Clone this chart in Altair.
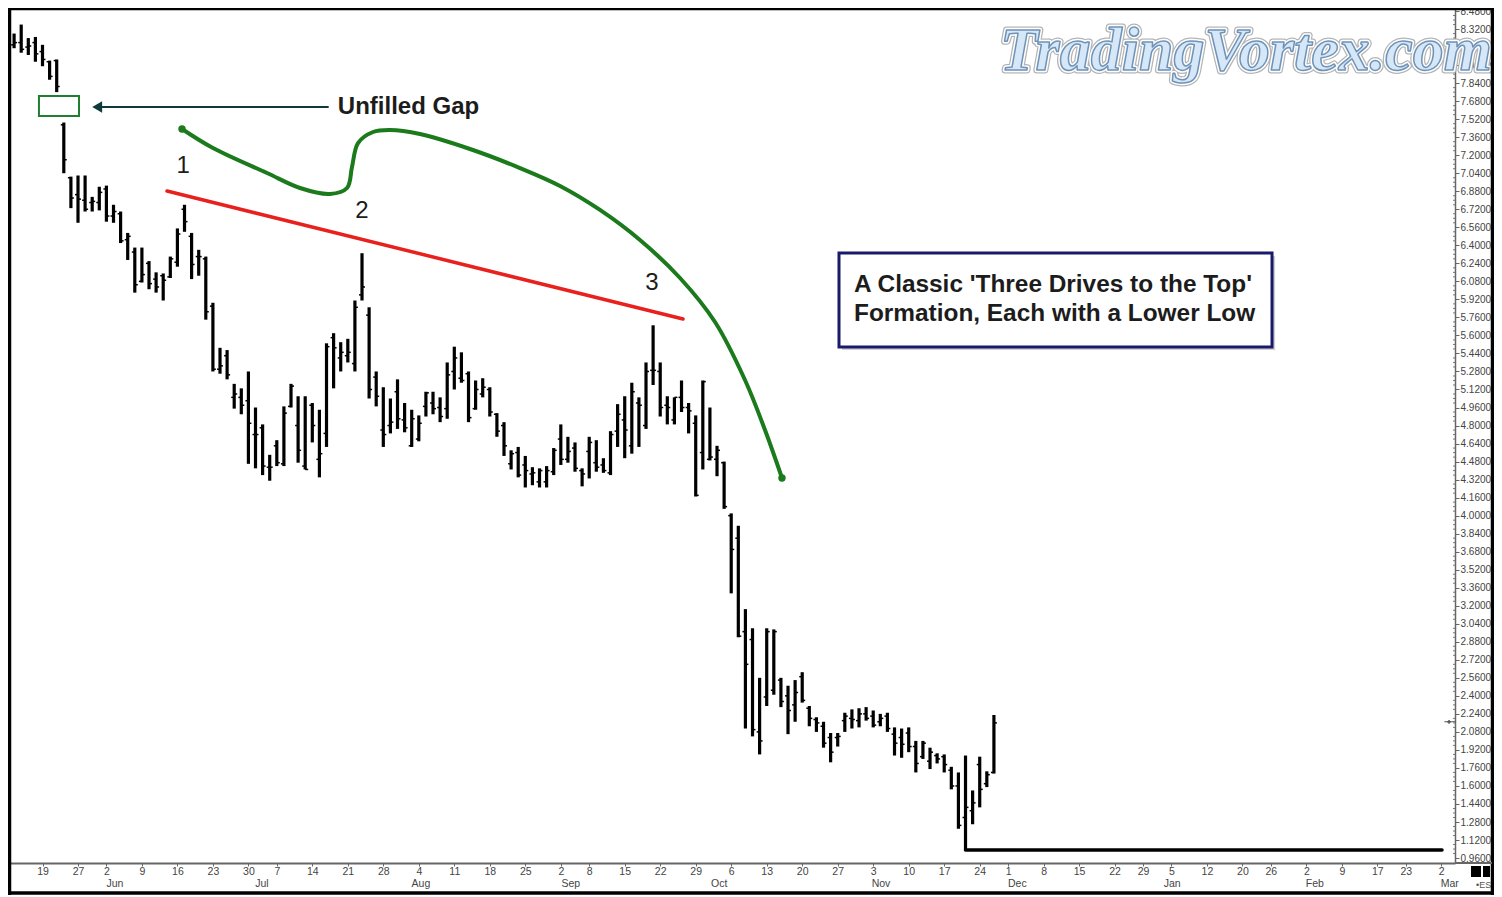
import altair as alt
import pandas as pd

# --- OHLC bars (one per trading session)
high = [8.22,8.28,8.36,8.24,8.25,8.18,8.04,8.05,7.49,7.01,7.02,7.02,6.83,6.92,6.93,6.76,6.70,6.51,6.38,6.38,
        6.26,6.16,6.15,6.30,6.55,6.76,6.51,6.36,6.30,5.89,5.49,5.47,5.17,5.13,5.28,4.96,4.81,4.54,4.67,4.97,
        5.17,5.06,5.06,5.00,4.94,5.53,5.62,5.54,5.57,5.91,6.33,5.85,5.28,5.14,5.04,5.21,5.00,4.94,4.89,5.10,
        5.10,5.05,5.36,5.50,5.45,5.28,5.20,5.22,5.14,4.91,4.83,4.58,4.61,4.53,4.43,4.42,4.44,4.60,4.81,4.70,
        4.65,4.42,4.70,4.67,4.51,4.75,4.99,5.06,5.18,5.05,5.36,5.69,5.36,5.06,5.05,5.20,5.00,4.89,5.20,4.96,
        4.62,4.48,4.02,3.91,3.17,3.00,2.56,3.00,2.99,2.56,2.49,2.54,2.61,2.31,2.21,2.17,2.07,2.07,2.25,2.28,
        2.29,2.30,2.27,2.24,2.25,2.12,2.11,2.12,2.00,2.00,1.94,1.89,1.88,1.77,1.72,1.87,1.56,1.86,1.73,2.23]
low = [8.12,8.15,8.11,8.09,8.03,7.99,7.87,7.76,7.04,6.73,6.60,6.70,6.70,6.71,6.61,6.60,6.42,6.27,5.98,6.07,
       6.01,5.98,5.91,6.11,6.21,6.52,6.10,6.13,5.74,5.28,5.26,5.21,4.95,4.90,4.46,4.42,4.36,4.31,4.44,4.44,
       4.96,4.47,4.41,4.65,4.34,4.61,5.13,5.28,5.36,5.28,5.91,5.04,4.97,4.61,4.73,4.77,4.74,4.61,4.66,4.88,
       4.90,4.83,4.86,5.12,5.18,4.83,4.94,5.05,4.88,4.70,4.53,4.41,4.34,4.25,4.27,4.25,4.25,4.36,4.45,4.47,
       4.39,4.26,4.33,4.39,4.38,4.36,4.61,4.51,4.55,4.61,4.77,5.16,4.88,4.81,4.81,4.92,4.73,4.17,4.41,4.49,
       4.35,4.06,3.31,2.92,2.11,2.04,1.88,2.31,2.41,2.30,2.06,2.17,2.34,2.13,2.08,1.94,1.81,1.95,2.08,2.11,
       2.12,2.18,2.12,2.13,2.08,1.87,1.85,1.90,1.72,1.84,1.75,1.80,1.72,1.57,1.22,1.03,1.26,1.41,1.59,1.71]
open_ = [8.15,8.18,8.20,8.16,8.20,8.12,8.03,8.04,7.47,7.00,6.85,6.80,6.78,6.78,6.90,6.66,6.68,6.45,6.34,6.08,
         6.24,6.10,6.13,6.12,6.25,6.72,6.48,6.30,6.28,5.86,5.30,5.42,5.05,5.05,5.02,4.72,4.78,4.43,4.62,4.46,
         4.97,4.80,4.44,4.98,4.50,4.73,5.58,5.40,5.42,5.35,5.96,5.78,5.23,4.76,4.80,5.10,4.85,4.62,4.68,4.97,
         5.00,4.96,4.95,5.28,5.22,5.26,4.95,5.08,5.12,4.90,4.80,4.46,4.56,4.45,4.37,4.30,4.30,4.39,4.68,4.50,
         4.60,4.40,4.57,4.47,4.45,4.38,4.75,4.85,4.62,5.00,4.80,5.29,5.28,4.98,4.85,5.05,4.96,4.82,4.56,4.50,
         4.50,4.47,4.00,3.80,2.97,2.90,2.08,2.39,2.45,2.54,2.40,2.32,2.57,2.29,2.19,2.13,2.03,2.03,2.18,2.20,
         2.18,2.24,2.22,2.17,2.22,2.06,2.03,2.07,1.95,1.86,1.82,1.87,1.86,1.74,1.60,1.32,1.38,1.79,1.62,1.72]
close = [8.18,8.20,8.14,8.17,8.10,8.05,7.90,7.81,7.16,6.82,6.81,6.72,6.79,6.87,6.66,6.70,6.44,6.48,6.05,6.14,
         6.06,6.03,6.09,6.28,6.50,6.61,6.23,6.30,5.81,5.30,5.33,5.25,5.08,4.98,4.82,4.72,4.44,4.43,4.47,4.91,
         5.15,4.58,4.41,4.80,4.55,5.50,5.49,5.45,5.45,5.85,6.03,5.12,5.06,4.72,4.83,4.86,4.78,4.86,4.82,5.09,
         4.95,4.88,5.25,5.40,5.20,4.87,5.12,5.14,4.92,4.75,4.62,4.55,4.36,4.40,4.38,4.40,4.40,4.58,4.50,4.57,
         4.42,4.37,4.65,4.43,4.40,4.72,4.90,4.76,5.10,4.98,5.28,5.29,4.96,4.96,5.05,4.96,4.93,4.18,5.19,4.52,
         4.58,4.08,3.70,2.93,2.68,2.10,2.00,2.97,2.97,2.35,2.27,2.43,2.36,2.20,2.16,1.98,1.90,2.04,2.22,2.19,
         2.24,2.20,2.14,2.20,2.11,1.98,1.97,1.95,1.80,1.98,1.90,1.84,1.79,1.60,1.25,1.41,1.45,1.57,1.70,2.16]

# --- axes
price_ticks = [0.96,1.12,1.28,1.44,1.60,1.76,1.92,2.08,2.24,2.40,2.56,2.72,2.88,3.04,3.20,3.36,3.52,3.68,3.84,4.00,
               4.16,4.32,4.48,4.64,4.80,4.96,5.12,5.28,5.44,5.60,5.76,5.92,6.08,6.24,6.40,6.56,6.72,6.88,7.04,7.20,
               7.36,7.52,7.68,7.84,8.00,8.16,8.32,8.48]
tick_sessions = [5,10,14,19,24,29,34,38,43,48,53,58,63,68,73,78,82,87,92,97,102,107,112,117,122,127,132,137,141,146,
                 151,156,160,164,169,174,178,183,188,193,197,202]
tick_days = ["19","27","2","9","16","23","30","7","14","21","28","4","11","18","25","2","8","15","22","29","6","13",
             "20","27","3","10","17","24","1","8","15","22","29","5","12","20","26","2","9","17","23","2"]
months = ["Jun","Jul","Aug","Sep","Oct","Nov","Dec","Jan","Feb","Mar"]
month_sessions = [15.2,35.9,58.3,79.4,100.3,123.1,142.3,164.1,184.2,203.2]

# --- annotations
green_s = [24.65,29.01,36.62,41.27,45.49,47.89,48.59,49.44,51.55,53.94,58.17,65.21,72.25,77.89,83.52,89.15,94.79,99.72,103.94,106.76,109.15]
green_p = [7.433,7.264,7.042,6.909,6.856,6.909,7.095,7.308,7.406,7.424,7.388,7.255,7.086,6.927,6.714,6.447,6.110,5.719,5.204,4.760,4.334]
red_s = [22.54,95.21]
red_p = [6.882,5.746]
base_s = [135.0,202.11]
base_p = [1.032,1.032]

X_DOMAIN = [0.1408, 203.94]
Y_DOMAIN = [0.916, 8.507]
xs = alt.Scale(domain=X_DOMAIN, nice=False, zero=False)
ys = alt.Scale(domain=Y_DOMAIN, nice=False, zero=False)
FONT = "Liberation Sans"
INK = "#1c1c1c"

df = pd.DataFrame({"session": range(len(high)), "high": high, "low": low, "open": open_, "close": close})
df["left"] = df["session"] - 0.42
df["right"] = df["session"] + 0.42

label_map = "{" + ",".join(f"'{s}':'{d}'" for s, d in zip(tick_sessions, tick_days)) + "}"
x_axis = alt.Axis(values=tick_sessions, labelExpr=f"{label_map}[''+datum.value]", title=None, grid=False,
                  domainColor="#666666", domainWidth=2, tickColor="#666666", tickSize=3, labelFont=FONT,
                  labelFontSize=10.5, labelColor="#444444", labelPadding=0, labelOverlap=False, labelFlush=False)
y_axis = alt.Axis(values=price_ticks, format=".4f", orient="right", title=None, grid=False, domainColor="#666666",
                  domainWidth=1.5, tickColor="#666666", tickSize=4, labelFont=FONT, labelFontSize=10,
                  labelColor="#444444", labelPadding=1, labelOverlap=False, labelFlush=False)

def X(f): return alt.X(f, scale=xs, axis=x_axis, title=None)
def Y(f): return alt.Y(f, scale=ys, axis=y_axis, title=None)

base = alt.Chart(df)
bars = base.mark_rule(color="#000000", strokeWidth=3.2).encode(x=X("session:Q"), y=Y("high:Q"), y2="low:Q")
open_ticks = base.mark_rule(color="#000000", strokeWidth=1.5).encode(x=X("left:Q"), x2="session:Q", y=Y("open:Q"))
close_ticks = base.mark_rule(color="#000000", strokeWidth=1.5).encode(x=X("session:Q"), x2="right:Q", y=Y("close:Q"))

def line(sx, py, color, width, interp="linear"):
    return alt.Chart(pd.DataFrame({"s": sx, "p": py})).mark_line(
        color=color, strokeWidth=width, interpolate=interp, strokeCap="round").encode(x=X("s:Q"), y=Y("p:Q"))

green = line(green_s, green_p, "#1b7a1b", 4, "catmull-rom")
green_ends = alt.Chart(pd.DataFrame({"s": [green_s[0], green_s[-1]], "p": [green_p[0], green_p[-1]]})).mark_point(
    filled=True, color="#1b7a1b", size=55, opacity=1).encode(x=X("s:Q"), y=Y("p:Q"))
red = line(red_s, red_p, "#e8211f", 3.5)
baseline = line(base_s, base_p, "#000000", 3.5)

gap = alt.Chart(pd.DataFrame({"s": [4.5], "s2": [10.14], "p": [7.726], "p2": [7.548]})).mark_rect(
    fillOpacity=0, stroke="#1f7f2f", strokeWidth=2).encode(x=X("s:Q"), x2="s2:Q", y=Y("p:Q"), y2="p2:Q")
arrow = line([12.5, 45.2], [7.628, 7.628], "#0e3a3c", 2)
arrow_head = alt.Chart(pd.DataFrame({"s": [12.7], "p": [7.628]})).mark_point(
    shape="triangle-left", filled=True, color="#0e3a3c", size=130, opacity=1).encode(x=X("s:Q"), y=Y("p:Q"))

def text(items, size, weight="normal", color=INK, align="left", font=FONT, **kw):
    d = pd.DataFrame(items, columns=["s", "p", "t"])
    return alt.Chart(d).mark_text(fontSize=size, fontWeight=weight, color=color, align=align, font=font,
                                  baseline=kw.pop("baseline", "middle"), **kw).encode(
        x=X("s:Q"), y=Y("p:Q"), text="t:N")

gap_label = text([(46.6, 7.628, "Unfilled Gap")], 24, "bold")
numbers = text([(24.8, 7.10, "1"), (50.0, 6.705, "2"), (90.85, 6.065, "3")], 24, align="center")

box_shadow = alt.Chart(pd.DataFrame({"s": [117.6], "s2": [178.6], "p": [6.305], "p2": [5.47]})).mark_rect(
    fill="#d4cfd2").encode(x=X("s:Q"), x2="s2:Q", y=Y("p:Q"), y2="p2:Q")
box = alt.Chart(pd.DataFrame({"s": [117.18], "s2": [178.17], "p": [6.332], "p2": [5.497]})).mark_rect(
    fill="#ffffff", stroke="#1a1a6a", strokeWidth=3).encode(x=X("s:Q"), x2="s2:Q", y=Y("p:Q"), y2="p2:Q")
box_text = text([(119.3, 6.048, "A Classic 'Three Drives to the Top'"),
                 (119.3, 5.790, "Formation, Each with a Lower Low")], 24.4, "bold")

# watermark
WM = [(139.86, 7.956, "TradingVortex.com")]
WF = "Liberation Serif"
wm1 = text(WM, 62, "bold", "#b4b4b4", font=WF, fontStyle="italic", baseline="alphabetic", stroke="#b4b4b4", strokeWidth=7, strokeJoin="round")
wm2 = text(WM, 62, "bold", "#ffffff", font=WF, fontStyle="italic", baseline="alphabetic", stroke="#ffffff", strokeWidth=4.5, strokeJoin="round")
wm3 = text(WM, 62, "bold", "#d6e7f8", font=WF, fontStyle="italic", baseline="alphabetic", stroke="#6f93b8", strokeWidth=1.5, strokeJoin="round")

# months under the day labels
month_df = pd.DataFrame({"s": month_sessions, "t": months})
month_labels = alt.Chart(month_df).mark_text(font=FONT, fontSize=10.5, color="#444444", baseline="middle").encode(
    x=X("s:Q"), y=alt.value(876), text="t:N")

# last-price marker on the price axis
marker = line([202.5, 203.94], [2.17, 2.17], "#555555", 1)
marker_dot = alt.Chart(pd.DataFrame({"s": [203.1], "p": [2.17]})).mark_point(
    shape="cross", filled=True, color="#555555", size=14, opacity=1).encode(x=X("s:Q"), y=Y("p:Q"))

# minor price ticks between the labelled ones
minor_prices = [round(t + d, 2) for t in price_ticks[:-1] for d in (0.04, 0.08, 0.12)]
minor = alt.Chart(pd.DataFrame({"p": minor_prices})).mark_rule(color="#777777", strokeWidth=1).encode(
    x=alt.value(1445), x2=alt.value(1447), y=Y("p:Q"))

# chart furniture
def hrule(y, x0, x2, color="#000000", w=3.5):
    return alt.Chart(pd.DataFrame({"a": [0]})).mark_rule(color=color, strokeWidth=w).encode(
        y=alt.value(y), x=alt.value(x0), x2=alt.value(x2))
def vrule(x, y0, y2, color="#000000", w=3.5):
    return alt.Chart(pd.DataFrame({"a": [0]})).mark_rule(color=color, strokeWidth=w).encode(
        x=alt.value(x), y=alt.value(y0), y2=alt.value(y2))
def square(x0, x2, y0, y2):
    return alt.Chart(pd.DataFrame({"a": [0]})).mark_rect(color="#000000").encode(
        x=alt.value(x0), x2=alt.value(x2), y=alt.value(y0), y2=alt.value(y2))

frame = [hrule(0.5, 0, 1486), vrule(1.5, 0, 887), vrule(1484.5, 0, 887), hrule(885, 0, 1486),
         hrule(855, 1447, 1484, "#666666", 2)]
squares = [square(1463, 1473, 858, 869), square(1475, 1482, 858, 869)]
es_label = alt.Chart(pd.DataFrame({"t": ["\u2022ES"]})).mark_text(
    font=FONT, fontSize=9, color="#555555", align="left", baseline="middle").encode(
    x=alt.value(1468), y=alt.value(877), text="t:N")

chart = alt.layer(
    bars, open_ticks, close_ticks, baseline, red, green, green_ends, gap, arrow, arrow_head, gap_label, numbers,
    box_shadow, box, box_text, month_labels, marker, marker_dot, minor, *squares, es_label, wm1, wm2, wm3, *frame,
).properties(
    width=1447, height=855,
    padding={"left": 0, "top": 0, "right": 39, "bottom": 34},
    autosize=alt.AutoSizeParams(type="none"),
    background="#ffffff",
).configure_view(strokeWidth=0)

chart.save("out.html", embed_options={"renderer": "svg", "actions": False})
